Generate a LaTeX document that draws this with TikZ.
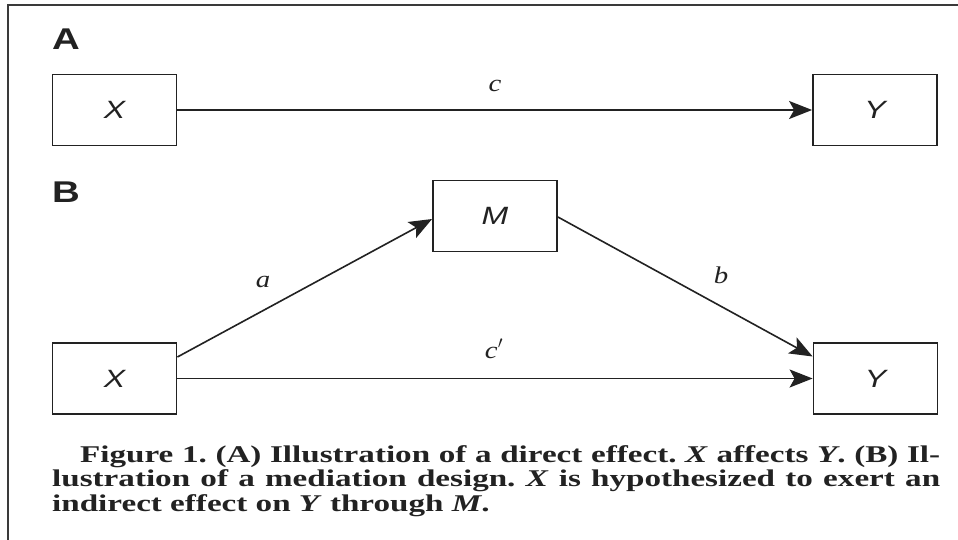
\documentclass[tikz,border=0pt]{standalone}
\usepackage{fontspec}
\setmainfont{Liberation Serif}
\newfontfamily\lblsans[FakeStretch=1.28]{Liberation Sans}
\newfontfamily\lblserif[FakeStretch=1.2]{Liberation Serif}
\newfontfamily\capserif[FakeStretch=1.38]{Liberation Serif}
\usetikzlibrary{arrows.meta}
\definecolor{ink}{HTML}{222222}
\definecolor{frame}{HTML}{3A3A3A}
\tikzset{
  varbox/.style={draw=ink, line width=1.8pt, fill=white, minimum width=124pt, minimum height=71pt,
    inner sep=0pt, font=\lblsans\itshape\fontsize{25}{30}\selectfont, text=ink},
  path/.style={draw=ink, line width=1.6pt, -{Stealth[length=23pt,width=18pt,inset=5pt]}},
  coef/.style={font=\lblserif\itshape\fontsize{24}{28}\selectfont, text=ink, inner sep=0pt, anchor=base},
  panel/.style={font=\lblsans\bfseries\fontsize{30}{34}\selectfont, text=ink, inner sep=0pt, anchor=base west}
}
\begin{document}
\begin{tikzpicture}[x=1pt,y=-1pt]
\useasboundingbox (0,0) rectangle (958,540);
\fill[white] (0,0) rectangle (958,540);
\draw[frame, line width=1.8pt] (958,5) -- (8,5) -- (8,540);

% Panel A
\node[panel] (lA) at (52,50) {A};
\node[varbox] (XA) at (114.5,110) {X};
\node[varbox] (YA) at (875,110) {Y};
\draw[path] (XA) -- (YA);
\node[coef] (c) at (495,92) {c};

% Panel B
\node[panel] (lB) at (52,203) {B};
\node[varbox] (M) at (495,216) {M};
\node[varbox] (XB) at (114.5,378.5) {X};
\node[varbox] (YB) at (875.5,378.5) {Y};
\draw[path] ([yshift=21.5pt]XB.east) -- ([yshift=-3pt]M.west);
\draw[path] ([yshift=-1pt]M.east) -- ([yshift=22pt]YB.west);
\draw[path] (XB.east) -- (YB.west);
\node[coef] (a) at (263,287) {a};
\node[coef] (b) at (721,283) {b};
\node[coef] (cp) at (494,358) {c$'$};

% Caption
\node[anchor=base west, inner sep=0pt, text width=888pt, align=justify, text=ink,
  font=\capserif\bfseries\fontsize{24}{24.5}\selectfont] (cap) at (52,462)
  {\frenchspacing\fontsize{24}{24.5}\selectfont\hspace*{28pt}Figure 1. (A) Illustration of a direct effect. \textit{X} affects \textit{Y}. (B) Il-\linebreak
   lustration of a mediation design. \textit{X} is hypothesized to exert an\linebreak
   indirect effect on \textit{Y} through \textit{M}.\par};
\end{tikzpicture}
\end{document}
